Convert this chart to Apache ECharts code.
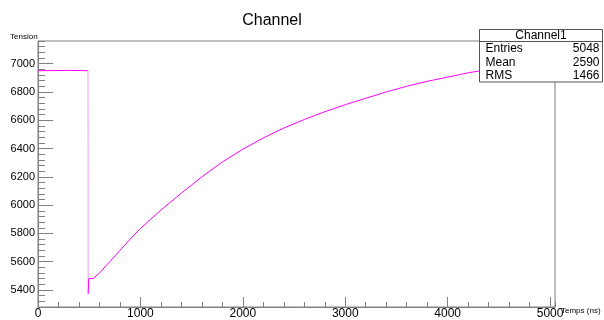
<!DOCTYPE html>
<html>
<head>
<meta charset="utf-8">
<script src="https://cdn.jsdelivr.net/npm/echarts@6/dist/echarts.min.js"></script>
<style>
  html, body { margin: 0; padding: 0; background: #fff; }
  #chart { width: 604px; height: 320px; }
</style>
</head>
<body>
<div id="chart"></div>
<script>
// Recorded waveform: time (ns) and tension readings
const timeNs = [0, 300, 488, 489, 490, 495, 540, 600, 700, 800, 900, 1000, 1100, 1200, 1400, 1600, 1800, 2000, 2200, 2400, 2600, 2800, 3000, 3200, 3400, 3600, 3800, 4000, 4200, 4400, 4600, 4800, 5048];
const tension = [6950, 6952, 6950, 6450, 5372, 5480, 5482, 5520, 5600, 5680, 5760, 5835, 5900, 5965, 6085, 6200, 6305, 6395, 6475, 6545, 6605, 6660, 6710, 6755, 6800, 6840, 6875, 6905, 6935, 6960, 6985, 7005, 7025];
// Index range of the steep fall (drawn in a paler tone)
const dropStart = 2;
const dropEnd = 4;

// Axis ranges and tick steps
const xRange = [0, 5048];
const yRange = [5280, 7160];
const xMajorStep = 1000;
const xMinorStep = 200;
const yMajorStep = 200;
const yMinorStep = 40;

// Statistics panel contents
const statsTitle = 'Channel1';
const statsNames = ['Entries', 'Mean', 'RMS'];
const statsValues = ['5048', '2590', '1466'];

const FONT = '"Liberation Sans", Arial, Helvetica, sans-serif';
const AXIS_GRAY = '#808080';

const points = timeNs.map((t, i) => [t, tension[i]]);
const flatPart = points.slice(0, dropStart + 1);
const dropPart = points.slice(dropStart, dropEnd + 1);
const recoveryPart = points.slice(dropEnd);

const chart = echarts.init(document.getElementById('chart'), null, { renderer: 'canvas' });

const statsX = 479.5, statsY = 29.5, statsW = 123, rowH = 13.5, headH = 12;
const statsGraphics = [
  {
    type: 'rect', z: 100,
    shape: { x: statsX, y: statsY, width: statsW, height: headH + rowH * statsNames.length },
    style: { fill: '#fff', stroke: '#555', lineWidth: 1 }
  },
  {
    type: 'line', z: 101,
    shape: { x1: statsX, y1: statsY + headH, x2: statsX + statsW, y2: statsY + headH },
    style: { stroke: '#555', lineWidth: 1 }
  },
  {
    type: 'text', z: 101,
    x: statsX + statsW / 2, y: statsY + headH / 2 + 0.5,
    style: { text: statsTitle, font: '12px ' + FONT, fill: '#000', align: 'center', verticalAlign: 'middle' }
  }
];
statsNames.forEach((name, i) => {
  const cy = statsY + headH + rowH * i + rowH / 2 + 0.5;
  statsGraphics.push({
    type: 'text', z: 101, x: statsX + 6, y: cy,
    style: { text: name, font: '12px ' + FONT, fill: '#000', align: 'left', verticalAlign: 'middle' }
  });
  statsGraphics.push({
    type: 'text', z: 101, x: statsX + statsW - 3, y: cy,
    style: { text: statsValues[i], font: '12px ' + FONT, fill: '#000', align: 'right', verticalAlign: 'middle' }
  });
});

const plainNumber = v => String(Math.round(v));

function traceSeries(data, color) {
  return {
    type: 'line',
    xAxisIndex: 0, yAxisIndex: 0,
    data: data,
    showSymbol: false,
    symbol: 'none',
    lineStyle: { color: color, width: 1 },
    itemStyle: { color: color },
    clip: true
  };
}

const option = {
  animation: false,
  backgroundColor: '#fff',
  title: {
    text: 'Channel',
    left: 267, top: 8,
    textAlign: 'center',
    textStyle: { fontFamily: FONT, fontSize: 16, fontWeight: 'normal', color: '#000' }
  },
  grid: {
    left: 38, right: 49, top: 41, bottom: 9,
    show: true, borderColor: AXIS_GRAY, borderWidth: 1, backgroundColor: 'transparent'
  },
  xAxis: [
    {
      type: 'value', min: xRange[0], max: xRange[1], interval: xMajorStep,
      axisLine: { show: true, lineStyle: { color: AXIS_GRAY } },
      axisTick: { show: true, inside: true, length: 10, lineStyle: { color: AXIS_GRAY } },
      axisLabel: { show: true, margin: 1, fontFamily: FONT, fontSize: 12, color: '#000',
                   showMaxLabel: false, formatter: plainNumber },
      splitLine: { show: false }
    },
    {
      type: 'value', min: xRange[0], max: xRange[1], interval: xMinorStep, position: 'bottom',
      axisLine: { show: false },
      axisTick: { show: true, inside: true, length: 5, lineStyle: { color: AXIS_GRAY } },
      axisLabel: { show: false },
      splitLine: { show: false }
    }
  ],
  yAxis: [
    {
      type: 'value', min: yRange[0], max: yRange[1],
      splitNumber: 9, minInterval: yMajorStep, maxInterval: yMajorStep,
      axisLine: { show: true, lineStyle: { color: AXIS_GRAY } },
      axisTick: { show: true, inside: true, length: 15, lineStyle: { color: AXIS_GRAY } },
      axisLabel: { show: true, margin: 3, fontFamily: FONT, fontSize: 11, color: '#000',
                   showMinLabel: false, showMaxLabel: false, formatter: plainNumber },
      splitLine: { show: false }
    },
    {
      type: 'value', min: yRange[0], max: yRange[1], interval: yMinorStep, position: 'left',
      axisLine: { show: false },
      axisTick: { show: true, inside: true, length: 7, lineStyle: { color: AXIS_GRAY } },
      axisLabel: { show: false },
      splitLine: { show: false }
    }
  ],
  graphic: [
    {
      type: 'text', x: 10, y: 37,
      style: { text: 'Tension', font: '8px ' + FONT, fill: '#000', verticalAlign: 'middle' }
    },
    {
      type: 'text', x: 561, y: 311,
      style: { text: 'Temps (ns)', font: '8px ' + FONT, fill: '#000', verticalAlign: 'middle' }
    }
  ].concat(statsGraphics),
  series: [
    traceSeries(flatPart, '#ff00ff'),
    traceSeries(dropPart, '#f59cf5'),
    traceSeries(recoveryPart, '#ff00ff')
  ]
};

chart.setOption(option);
</script>
</body>
</html>
